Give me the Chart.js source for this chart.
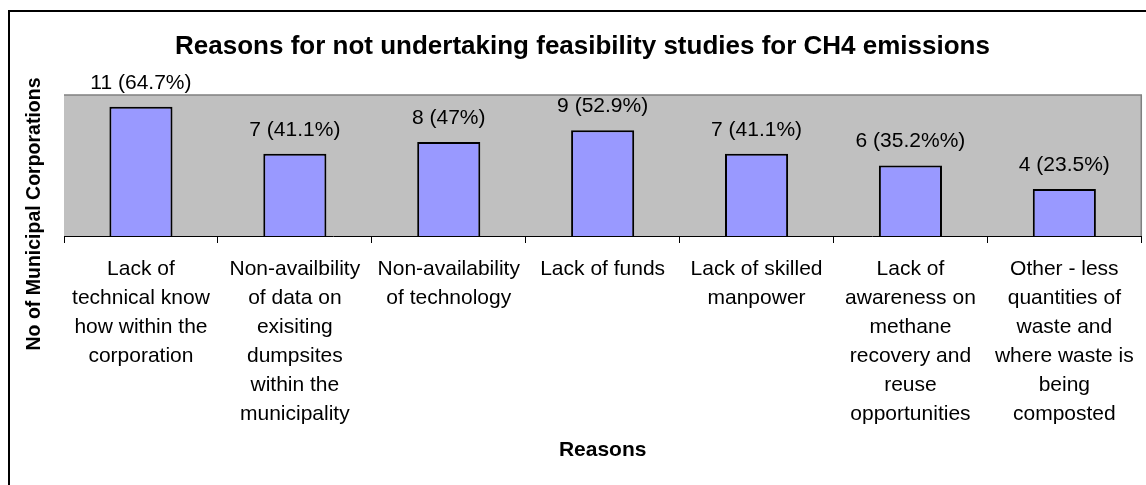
<!DOCTYPE html>
<html>
<head>
<meta charset="utf-8">
<script src="https://cdn.jsdelivr.net/npm/chart.js@4/dist/chart.umd.min.js"></script>
<style>
  html, body { margin: 0; padding: 0; background: #ffffff; }
  #wrap { width: 1146px; height: 485px; position: relative; }
</style>
</head>
<body>
<div id="wrap"><canvas id="c"></canvas></div>
<script>
// ---- data ----
const categories = [
  ["Lack of", "technical know", "how within the", "corporation"],
  ["Non-availbility", "of data on", "exisiting", "dumpsites", "within the", "municipality"],
  ["Non-availability", "of technology"],
  ["Lack of funds"],
  ["Lack of skilled", "manpower"],
  ["Lack of", "awareness on", "methane", "recovery and", "reuse", "opportunities"],
  ["Other - less", "quantities of", "waste and", "where waste is", "being", "composted"]
];
const counts = [11, 7, 8, 9, 7, 6, 4];
const valueLabels = ["11 (64.7%)", "7 (41.1%)", "8 (47%)", "9 (52.9%)", "7 (41.1%)", "6 (35.2%%)", "4 (23.5%)"];
const chartTitle = "Reasons for not undertaking feasibility studies for CH4 emissions";
const xTitle = "Reasons";
const yTitle = "No of Municipal Corporations";
const yMin = 0;
const yMax = 12;

const FONT = '"Liberation Sans", Arial, sans-serif';

const framePlugin = {
  id: 'frame',
  beforeDraw(chart) {
    const ctx = chart.ctx;
    const a = chart.chartArea;
    ctx.save();
    ctx.fillStyle = '#ffffff';
    ctx.fillRect(0, 0, chart.width, chart.height);
    // outer frame (left & top)
    ctx.fillStyle = '#000000';
    ctx.fillRect(8, 10, 2, chart.height - 10);
    ctx.fillRect(8, 10, chart.width - 8, 2);
    // plot area
    ctx.fillStyle = '#C0C0C0';
    ctx.fillRect(a.left, a.top, a.right - a.left, a.bottom - a.top);
    ctx.strokeStyle = '#808080';
    ctx.lineWidth = 1.5;
    ctx.beginPath();
    ctx.moveTo(a.left, a.top);
    ctx.lineTo(a.right, a.top);
    ctx.lineTo(a.right, a.bottom);
    ctx.stroke();
    ctx.restore();
  },
  afterDraw(chart) {
    const ctx = chart.ctx;
    ctx.save();
    ctx.fillStyle = '#000000';
    ctx.font = 'bold 19.5px ' + FONT;
    ctx.textAlign = 'center';
    ctx.textBaseline = 'middle';
    ctx.translate(35, 214);
    ctx.rotate(-Math.PI / 2);
    ctx.fillText(yTitle, 0, 0);
    ctx.restore();
  }
};

const valueLabelPlugin = {
  id: 'valueLabels',
  afterDatasetsDraw(chart) {
    const ctx = chart.ctx;
    const meta = chart.getDatasetMeta(0);
    ctx.save();
    ctx.fillStyle = '#000000';
    ctx.font = '21px ' + FONT;
    ctx.textAlign = 'center';
    ctx.textBaseline = 'middle';
    meta.data.forEach((bar, i) => {
      ctx.fillText(valueLabels[i], bar.x, bar.y - 24);
    });
    ctx.restore();
  }
};

new Chart(document.getElementById('c'), {
  type: 'bar',
  data: {
    labels: categories,
    datasets: [{
      data: counts,
      backgroundColor: '#9999FF',
      borderColor: '#000000',
      borderWidth: 2,
      barPercentage: 0.41,
      categoryPercentage: 1.0
    }]
  },
  options: {
    responsive: true,
    maintainAspectRatio: false,
    animation: false,
    events: [],
    layout: { padding: { left: 22, right: 3, top: 10, bottom: 0 } },
    plugins: {
      legend: { display: false },
      tooltip: { enabled: false },
      title: {
        display: true,
        text: chartTitle,
        color: '#000000',
        font: { family: FONT, size: 26, weight: 'bold', lineHeight: 1.2 },
        padding: { top: 21, bottom: 32.8 }
      }
    },
    scales: {
      x: {
        grid: {
          display: true,
          drawOnChartArea: false,
          drawTicks: true,
          tickLength: 7,
          color: '#000000',
          offset: true
        },
        border: { display: true, color: '#000000', width: 1 },
        ticks: {
          color: '#000000',
          font: { family: FONT, size: 21, lineHeight: '29px' },
          padding: 12,
          maxRotation: 0,
          minRotation: 0,
          autoSkip: false
        },
        title: {
          display: true,
          text: xTitle,
          color: '#000000',
          font: { family: FONT, size: 21, weight: 'bold', lineHeight: 1.2 },
          padding: { top: 0, bottom: 22 }
        },
        afterFit(scale) { scale.height = 249; }
      },
      y: {
        min: yMin,
        max: yMax,
        grid: { display: false, drawTicks: false },
        border: { display: false },
        ticks: { display: false },
        afterFit(scale) { scale.width = 42; }
      }
    }
  },
  plugins: [framePlugin, valueLabelPlugin]
});
</script>
</body>
</html>
